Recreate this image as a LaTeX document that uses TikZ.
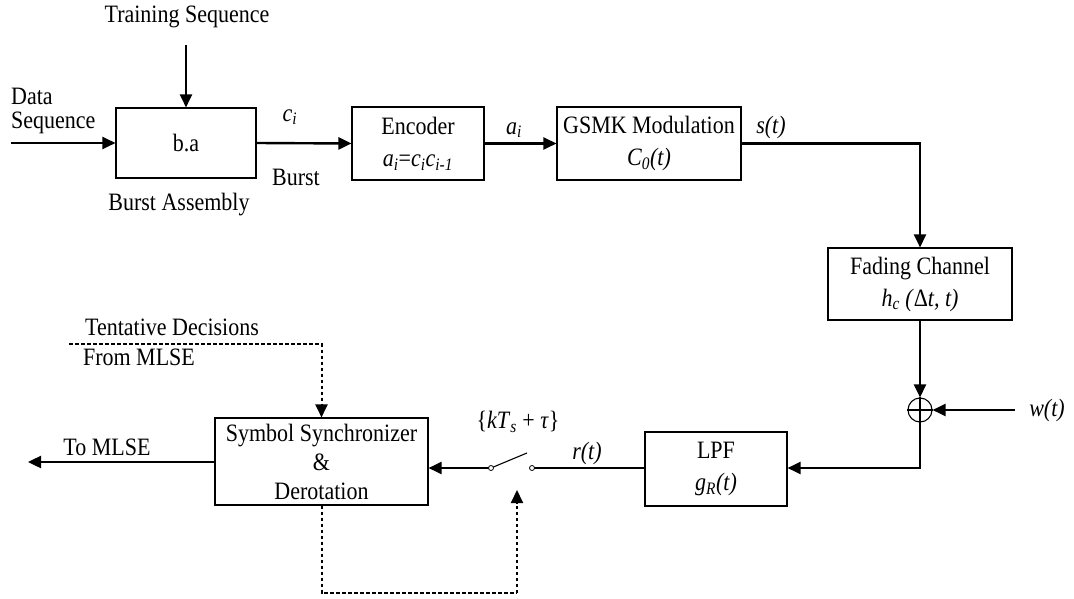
\documentclass[tikz,border=0pt]{standalone}
\usepackage{fontspec}
\setmainfont{Liberation Serif}[FakeStretch=0.88]
\usetikzlibrary{arrows.meta,calc}
\newcommand\ivar[2]{\textit{#1}\textsubscript{\textit{#2}}}
\begin{document}
\begin{tikzpicture}[x=1pt,y=-1pt,
  every node/.style={font=\fontsize{25}{32}\selectfont},
  blk/.style={draw,line width=1.1pt,minimum width=#1,inner sep=0pt,align=center},
  lbl/.style={inner sep=0pt},
  arr/.style={line width=2.4pt,-{Triangle[length=13pt,width=12pt]}},
  ln/.style={line width=2.4pt},
  darr/.style={line width=2pt,dash pattern=on 3.5pt off 2.5pt,-{Triangle[length=13pt,width=12pt]}},
  dln/.style={line width=2pt,dash pattern=on 3.5pt off 2.5pt}]
\useasboundingbox (0,0) rectangle (1074,599);

% blocks
\node[blk=140pt,minimum height=70pt] (ba) at (186,143) {b.a};
\node[blk=132pt,minimum height=73pt] (enc) at (418,143.5) {Encoder\\ \ivar{a}{i}=\ivar{c}{i}\ivar{c}{i-1}};
\node[blk=184pt,minimum height=73pt] (gsmk) at (649,143.5) {GSMK Modulation\\ \ivar{C}{0}\textit{(t)}};
\node[blk=184pt,minimum height=72pt] (fad) at (920,284) {Fading Channel\\ \ivar{h}{c} \textit{(}Δ\textit{t, t)}};
\node[draw,circle,line width=1.1pt,minimum size=24pt,inner sep=0pt] (sum) at (920,410) {};
\draw[line width=1.1pt] (sum.north) -- (sum.south) (sum.west) -- (sum.east);
\node[blk=142pt,minimum height=74pt] (lpf) at (716,469) {LPF\\ \textit{g}\textsubscript{\textit{R}}\textit{(t)}};
\node[blk=213pt,minimum height=87pt,font=\fontsize{25}{29}\selectfont] (sym) at (321.5,461.5) {Symbol Synchronizer\\ \&\\ Derotation};

% coordinates
\coordinate (ts) at (186,45);
\coordinate (din) at (11,143);
\coordinate (win) at (1015,410);
\coordinate (swL) at (491,468);
\coordinate (swR) at (532,468);
\coordinate (blade) at (527,453);
\coordinate (out) at (28,462);
\coordinate (td) at (69,344);
\coordinate (fb) at (517,593);
\coordinate (fbtip) at (517,490);

% labels
\node[lbl] (tsl) at (187,17) {Training Sequence};
\node[lbl,anchor=west] (dl1) at (11,96) {Data};
\node[lbl,anchor=west] (dl2) at (11,123) {Sequence};
\node[lbl] (bal) at (179,205) {Burst Assembly};
\node[lbl] (cil) at (290,117) {\ivar{c}{i}};
\node[lbl] (bl) at (296,177) {Burst};
\node[lbl] (ail) at (514,130) {\ivar{a}{i}};
\node[lbl] (stl) at (771,127) {\textit{s(t)}};
\node[lbl] (wtl) at (1047,410) {\textit{w(t)}};
\node[lbl] (rtl) at (587,453) {\textit{r(t)}};
\node[lbl] (kts) at (518,422) {\{\textit{kT}\textsubscript{\textit{s}} + \textit{τ}\}};
\node[lbl] (tml) at (107,447) {To MLSE};
\node[lbl] (tdl1) at (172,327) {Tentative Decisions};
\node[lbl] (tdl2) at (139,357) {From MLSE};

% connectors
\draw[arr] (ts) -- (ba.north);
\draw[arr] (din) -- (ba.west);
\draw[arr] (ba.east) -- (enc.west);
\draw[arr] (enc.east) -- (gsmk.west);
\draw[arr] (gsmk.east) -| (fad.north);
\draw[arr] (fad.south) -- (sum.north);
\draw[arr] (win) -- (sum.east);
\draw[arr] (sum.south) |- (lpf.east |- swR);
\draw[ln] (lpf.west |- swR) -- (swR);
\draw[line width=1.1pt] (swL) -- (blade);
\draw[arr] (swL) -- (sym.east |- swL);
\draw[arr] (sym.west |- out) -- (out);
\draw[darr] (td) -| (sym.north);
\draw[dln] (sym.south) |- (fb);
\draw[darr] (fb) -- (fbtip);
\draw[line width=0.8pt,fill=white] (swL) circle (2.5pt) (swR) circle (2.5pt);
\end{tikzpicture}
\end{document}
